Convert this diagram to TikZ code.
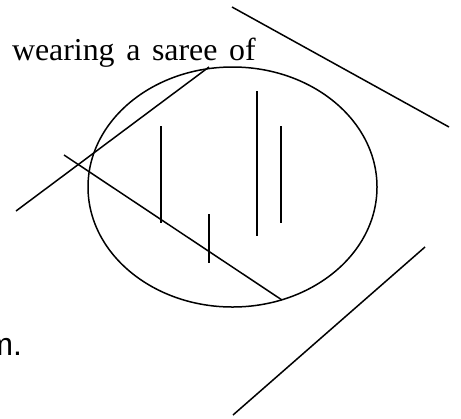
\documentclass[tikz,border=0pt]{standalone}
\usepackage{fontspec}
\setmainfont{Liberation Serif}
\newfontfamily\labelsans{Liberation Sans}
\begin{document}
\begin{tikzpicture}[x=1bp,y=-1bp,
  stroke/.style={draw=black,line width=1.5bp},
  bigtext/.style={inner sep=0pt,outer sep=0pt,font=\fontsize{32}{38}\selectfont}]
\useasboundingbox (0,0) rectangle (461,418);
\clip (0,0) rectangle (461,418);
% text
\node[bigtext,anchor=base west] (txt) at (12,60) {\spaceskip=11.6bp wearing a saree of};
\node[bigtext,anchor=base east] (m) at (22,355) {\labelsans m.};
% ellipse
\draw[stroke] (232.5,187) ellipse [x radius=144.5, y radius=120];
% crossing lines
\draw[stroke] (16,211) -- (209,67);
\draw[stroke] (64,155) -- (282,300);
% vertical strokes
\draw[stroke] (161,126) -- (161,223);
\draw[stroke] (209,214) -- (209,263);
\draw[stroke] (257,91) -- (257,236);
\draw[stroke] (281,126) -- (281,223);
% outer lines
\draw[stroke] (232,7) -- (449,127);
\draw[stroke] (425,247) -- (233,415);
\end{tikzpicture}
\end{document}
